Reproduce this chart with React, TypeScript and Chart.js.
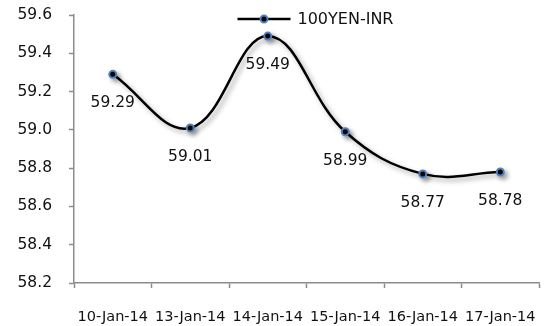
import React, { useEffect, useRef } from "react";
import { Chart, registerables } from "chart.js";

Chart.register(...registerables);

const dates = ["10-Jan-14", "13-Jan-14", "14-Jan-14", "15-Jan-14", "16-Jan-14", "17-Jan-14"];
const rates = [59.29, 59.01, 59.49, 58.99, 58.77, 58.78];
const seriesName = "100YEN-INR";
const yMin = 58.2;
const yMax = 59.6;
const yStep = 0.2;

const FONT = "'DejaVu Sans', sans-serif";
const AXIS_GRAY = "#8c8c8c";
const MARKER_BLUE = "#4f81bd";

// Soft drop shadow under the line and markers
const shadowPlugin = {
  id: "lineShadow",
  beforeDatasetsDraw(chart: any) {
    const ctx = chart.ctx;
    ctx.save();
    ctx.shadowColor = "rgba(0,0,0,0.35)";
    ctx.shadowBlur = 5;
    ctx.shadowOffsetX = 3;
    ctx.shadowOffsetY = 3;
  },
  afterDatasetsDraw(chart: any) {
    chart.ctx.restore();
  },
};

// Value labels under each marker
const valueLabelPlugin = {
  id: "valueLabels",
  afterDatasetsDraw(chart: any) {
    const ctx = chart.ctx;
    const meta = chart.getDatasetMeta(0);
    const data = chart.data.datasets[0].data as number[];
    ctx.save();
    ctx.font = `15.5px ${FONT}`;
    ctx.fillStyle = "#111";
    ctx.textAlign = "center";
    ctx.textBaseline = "middle";
    meta.data.forEach((pt: any, i: number) => {
      ctx.fillText(data[i].toFixed(2), pt.x, pt.y + 29);
    });
    ctx.restore();
  },
};

// Legend: line sample with marker, then the series name
const legendPlugin = {
  id: "lineLegend",
  afterDraw(chart: any) {
    const ctx = chart.ctx;
    const ds = chart.data.datasets[0];
    const cx = (chart.chartArea.left + chart.chartArea.right) / 2;
    const y = 19;
    const x0 = cx - 69;
    const x1 = x0 + 53;
    ctx.save();
    ctx.strokeStyle = ds.borderColor;
    ctx.lineWidth = 2.5;
    ctx.beginPath();
    ctx.moveTo(x0, y);
    ctx.lineTo(x1, y);
    ctx.stroke();
    ctx.beginPath();
    ctx.arc((x0 + x1) / 2, y, 3.5, 0, Math.PI * 2);
    ctx.fillStyle = ds.pointBackgroundColor;
    ctx.fill();
    ctx.lineWidth = 2;
    ctx.strokeStyle = ds.pointBorderColor;
    ctx.stroke();
    ctx.font = `16px ${FONT}`;
    ctx.fillStyle = "#111";
    ctx.textAlign = "left";
    ctx.textBaseline = "middle";
    ctx.fillText(ds.label, x1 + 7, y + 1);
    ctx.restore();
  },
};

export default function App() {
  const canvasRef = useRef<HTMLCanvasElement>(null);

  useEffect(() => {
    const canvas = canvasRef.current;
    if (!canvas) return;
    const chart = new Chart(canvas, {
      type: "line",
      data: {
        labels: dates,
        datasets: [
          {
            label: seriesName,
            data: rates,
            borderColor: "#000000",
            borderWidth: 2.5,
            tension: 0.4,
            pointRadius: 3.5,
            pointBackgroundColor: "#000000",
            pointBorderColor: MARKER_BLUE,
            pointBorderWidth: 2,
            fill: false,
          },
        ],
      },
      options: {
        animation: false,
        responsive: false,
        maintainAspectRatio: false,
        layout: { padding: { top: 15, right: 11, left: 0, bottom: 0 } },
        plugins: {
          legend: { display: false },
          tooltip: { enabled: false },
        },
        scales: {
          x: {
            offset: true,
            grid: {
              offset: true,
              drawOnChartArea: false,
              drawTicks: true,
              tickLength: 5,
              tickColor: AXIS_GRAY,
              tickWidth: 1.5,
            },
            border: { display: true, color: AXIS_GRAY, width: 1.5 },
            ticks: {
              autoSkip: false,
              maxRotation: 0,
              minRotation: 0,
              padding: 21,
              color: "#111",
              font: { family: FONT, size: 14.5 },
            },
            afterFit(scale: any) {
              scale.height = 43;
              scale.paddingLeft = 0;
              scale.paddingRight = 0;
            },
          },
          y: {
            min: yMin,
            max: yMax,
            grid: {
              drawOnChartArea: false,
              drawTicks: true,
              tickLength: 5,
              tickColor: AXIS_GRAY,
              tickWidth: 1.5,
            },
            border: { display: true, color: AXIS_GRAY, width: 1.5 },
            ticks: {
              stepSize: yStep,
              padding: 17,
              color: "#111",
              font: { family: FONT, size: 15.5 },
              callback: (v: any) => Number(v).toFixed(1),
            },
            afterFit(scale: any) {
              scale.width = 74;
              scale.paddingTop = 0;
              scale.paddingBottom = 0;
            },
          },
        },
      },
      plugins: [shadowPlugin, valueLabelPlugin, legendPlugin],
    });
    return () => chart.destroy();
  }, []);

  return (
    <div style={{ position: "fixed", left: 0, top: 0, width: 550, height: 326, background: "#fff" }}>
      <canvas ref={canvasRef} width={550} height={326} style={{ display: "block" }} />
    </div>
  );
}
